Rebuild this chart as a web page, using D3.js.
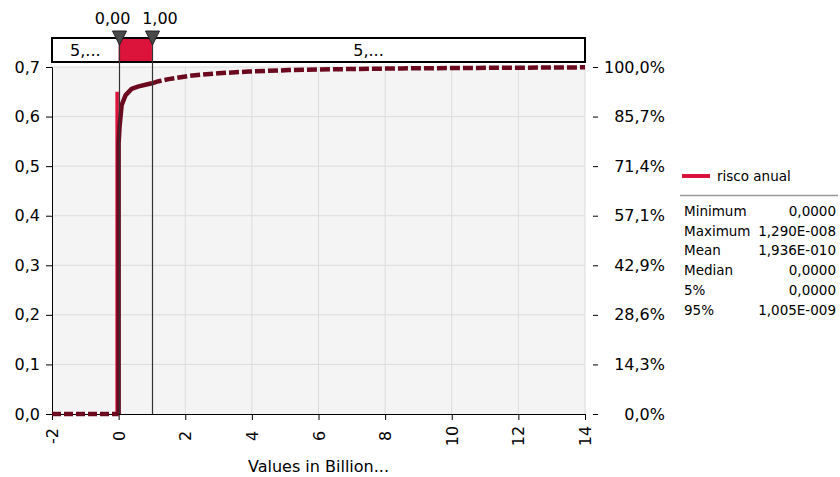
<!DOCTYPE html>
<html>
<head>
<meta charset="utf-8">
<script src="https://cdn.jsdelivr.net/npm/d3@7/dist/d3.min.js"></script>
<style>
  html, body { margin: 0; padding: 0; background: #ffffff; }
  svg { display: block; font-family: "DejaVu Sans", Verdana, sans-serif; }
</style>
</head>
<body>
<svg id="chart" width="840" height="477"></svg>
<script>
// ---- data ----
const xTicks = [-2, 0, 2, 4, 6, 8, 10, 12, 14];
const leftTicks = [0, 0.1, 0.2, 0.3, 0.4, 0.5, 0.6, 0.7];
const rightTickLabels = ["0,0%", "14,3%", "28,6%", "42,9%", "57,1%", "71,4%", "85,7%", "100,0%"];

// cumulative probability of "risco anual" (x in billionths)
const cdfX = [-2, 0, 0, 0.03, 0.09, 0.21, 0.39, 0.6, 0.9, 1.0, 1.2, 1.5, 2.1, 2.5, 3.0, 3.9, 5.1, 6.0, 6.9, 8.5, 9.9, 12, 14];
const cdfP = [0, 0, 0.78, 0.83, 0.89, 0.919, 0.937, 0.944, 0.951, 0.953, 0.959, 0.965, 0.974, 0.978, 0.982, 0.987, 0.991, 0.993, 0.994, 0.996, 0.997, 0.998, 0.999];

// probability density spike (left axis units)
const densX = [0, 0];
const densY = [0, 0.65];

const markerValues = [0, 1];
const markerLabels = ["0,00", "1,00"];
const bandLabels = ["5,...", "5,..."];

const seriesName = "risco anual";
const statNames = ["Minimum", "Maximum", "Mean", "Median", "5%", "95%"];
const statValues = ["0,0000", "1,290E-008", "1,936E-010", "0,0000", "0,0000", "1,005E-009"];

const axisTitle = "Values in Billion...";

// ---- layout ----
const plot = { left: 52, right: 585, top: 67, bottom: 414 };
const band = { top: 38, bottom: 62 };
const dark = "#6b0a1f";
const red = "#dc143c";
const font = "DejaVu Sans, Verdana, sans-serif";

const svg = d3.select("#chart");
const locale = d3.formatLocale({ decimal: ",", thousands: ".", grouping: [3], currency: ["", ""] });
const f1 = locale.format(".1f");

const x = d3.scaleLinear().domain([-2, 14]).range([plot.left, plot.right]);
const y = d3.scaleLinear().domain([0, 0.7]).range([plot.bottom, plot.top]);
const yP = d3.scaleLinear().domain([0, 1]).range([plot.bottom, plot.top]);

// plot background
svg.append("rect")
  .attr("x", plot.left).attr("y", plot.top)
  .attr("width", plot.right - plot.left).attr("height", plot.bottom - plot.top)
  .attr("fill", "#f4f4f4");

// gridlines
svg.append("g").selectAll("line").data(xTicks.filter(d => d > 0))
  .join("line")
  .attr("x1", d => x(d)).attr("x2", d => x(d))
  .attr("y1", plot.top).attr("y2", plot.bottom)
  .attr("stroke", "#dcdcdc").attr("stroke-width", 1);
svg.append("g").selectAll("line").data(leftTicks.filter(d => d > 0))
  .join("line")
  .attr("x1", plot.left).attr("x2", plot.right)
  .attr("y1", d => y(d)).attr("y2", d => y(d))
  .attr("stroke", "#dcdcdc").attr("stroke-width", 1);

// left axis
const gl = svg.append("g").attr("transform", `translate(${plot.left},0)`)
  .call(d3.axisLeft(y).tickValues(leftTicks).tickFormat(f1).tickSize(6).tickPadding(6));
gl.select(".domain").attr("stroke", "#000");
gl.selectAll("text").attr("font-size", 16).attr("fill", "#000").attr("font-family", font);

// right axis (percent of cumulative probability)
const gr = svg.append("g").attr("transform", `translate(${plot.right + 8},0)`)
  .call(d3.axisRight(yP).tickValues(leftTicks.map(d => d / 0.7)).tickFormat((d, i) => rightTickLabels[i]).tickSize(5).tickPadding(0));
gr.select(".domain").remove();
gr.selectAll("text").attr("font-size", 16).attr("fill", "#000")
  .attr("text-anchor", "end").attr("x", 72)
  .attr("font-family", font);

// bottom axis
const gb = svg.append("g").attr("transform", `translate(0,${plot.bottom})`)
  .call(d3.axisBottom(x).tickValues(xTicks).tickFormat(d => String(d)).tickSize(6));
gb.select(".domain").attr("stroke", "#000");
gb.selectAll("text")
  .attr("font-size", 16).attr("fill", "#000")
  .attr("font-family", font)
  .attr("text-anchor", "middle")
  .attr("dy", "0.35em")
  .attr("y", 0)
  .attr("transform", "translate(0,22) rotate(-90)");

svg.append("text")
  .attr("x", (plot.left + plot.right) / 2).attr("y", 472)
  .attr("text-anchor", "middle").attr("font-size", 16).attr("fill", "#000")
  .text(axisTitle);

// density spike
const lineD = d3.line().x(d => x(d[0])).y(d => y(d[1]));
svg.append("path")
  .datum(d3.zip(densX, densY))
  .attr("d", lineD)
  .attr("fill", "none").attr("stroke", red).attr("stroke-width", 3.5)
  .attr("transform", "translate(-1.5,0)");

// cumulative curve
const cdf = d3.zip(cdfX, cdfP);
const lineC = d3.line().x(d => x(d[0])).y(d => yP(d[1]));
const lowPart = cdf.filter((d, i) => i <= 1);
const midPart = cdf.filter((d, i) => i >= 1 && d[0] <= 1.0);
const highPart = cdf.filter(d => d[0] >= 1.0);
svg.append("path").datum(lowPart).attr("d", lineC)
  .attr("fill", "none").attr("stroke", dark).attr("stroke-width", 4.5)
  .attr("stroke-dasharray", "9,3");
svg.append("path").datum(midPart).attr("d", lineC)
  .attr("fill", "none").attr("stroke", dark).attr("stroke-width", 4.5)
  .attr("stroke-linejoin", "round");
svg.append("path").datum(highPart).attr("d", lineC)
  .attr("fill", "none").attr("stroke", dark).attr("stroke-width", 4.5)
  .attr("stroke-dasharray", "10,3");

// band above the plot
svg.append("rect")
  .attr("x", plot.left).attr("y", band.top)
  .attr("width", plot.right - plot.left).attr("height", band.bottom - band.top)
  .attr("fill", "#fff");
svg.append("rect")
  .attr("x", x(markerValues[0])).attr("y", band.top)
  .attr("width", x(markerValues[1]) - x(markerValues[0])).attr("height", band.bottom - band.top)
  .attr("fill", red);
svg.append("rect")
  .attr("x", plot.left).attr("y", band.top)
  .attr("width", plot.right - plot.left).attr("height", band.bottom - band.top)
  .attr("fill", "none").attr("stroke", "#000").attr("stroke-width", 2);

const bandCenters = [
  (x(-2) + x(markerValues[0])) / 2,
  (x(markerValues[1]) + x(14)) / 2
];
svg.append("g").selectAll("text").data(bandLabels)
  .join("text")
  .attr("x", (d, i) => bandCenters[i]).attr("y", (band.top + band.bottom) / 2)
  .attr("dy", "0.35em").attr("text-anchor", "middle")
  .attr("font-size", 16).attr("fill", "#000")
  .text(d => d);

// marker lines and triangles
svg.append("g").selectAll("line").data(markerValues)
  .join("line")
  .attr("x1", d => Math.round(x(d)) + 0.5).attr("x2", d => Math.round(x(d)) + 0.5)
  .attr("y1", band.top).attr("y2", plot.bottom)
  .attr("stroke", "#333").attr("stroke-width", 1.2);
svg.append("g").selectAll("path").data(markerValues)
  .join("path")
  .attr("d", d => {
    const cx = Math.round(x(d)) + 0.5;
    return `M${cx - 7},31 L${cx + 7},31 L${cx},45 Z`;
  })
  .attr("fill", "#4a4a4a").attr("stroke", "#222").attr("stroke-width", 1);
// labels pushed apart so they do not collide
const labelShift = [-6, 8];
svg.append("g").selectAll("text").data(markerLabels)
  .join("text")
  .attr("x", (d, i) => x(markerValues[i]) + labelShift[i]).attr("y", 18)
  .attr("dy", "0.35em").attr("text-anchor", "middle")
  .attr("font-size", 16).attr("fill", "#000")
  .text(d => d);

// legend
const lg = svg.append("g");
lg.append("line").attr("x1", 682).attr("x2", 710).attr("y1", 176).attr("y2", 176)
  .attr("stroke", red).attr("stroke-width", 4);
lg.append("text").attr("x", 717).attr("y", 176).attr("dy", "0.35em")
  .attr("font-size", 13.5).attr("fill", "#000").text(seriesName);
lg.append("line").attr("x1", 680).attr("x2", 838).attr("y1", 195.5).attr("y2", 195.5)
  .attr("stroke", "#999").attr("stroke-width", 1.5);
lg.selectAll("text.sn").data(statNames).join("text").attr("class", "sn")
  .attr("x", 684).attr("y", (d, i) => 211 + i * 19.8).attr("dy", "0.35em")
  .attr("font-size", 13.5).attr("fill", "#000").text(d => d);
lg.selectAll("text.sv").data(statValues).join("text").attr("class", "sv")
  .attr("x", 836).attr("y", (d, i) => 211 + i * 19.8).attr("dy", "0.35em")
  .attr("text-anchor", "end")
  .attr("font-size", 13.5).attr("fill", "#000").text(d => d);
</script>
</body>
</html>
